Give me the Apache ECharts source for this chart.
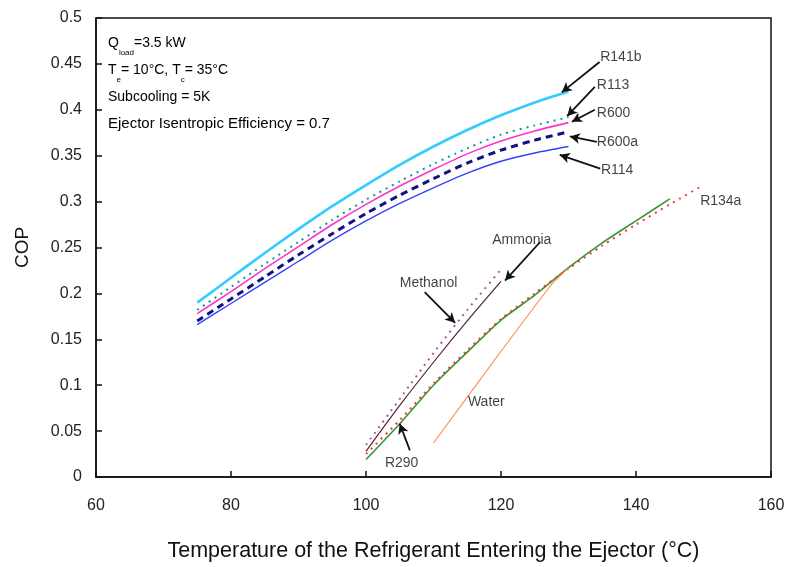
<!DOCTYPE html>
<html>
<head>
<meta charset="utf-8">
<script src="https://cdn.jsdelivr.net/npm/echarts@6/dist/echarts.min.js"></script>
<style>
  html, body { margin: 0; padding: 0; background: #fff; }
  #chart { width: 794px; height: 567px; }
</style>
</head>
<body>
<div id="chart"></div>
<script>
// Generator inlet temperatures (°C)
const tempHigh = [75, 80, 85, 90, 95, 100, 105, 110, 115, 120, 125, 130];
const tempLow = [100, 105, 110, 115, 120];
const tempR290 = [100, 105, 110, 115, 120, 125, 130, 135, 140, 145];
const tempR134a = [100, 105, 110, 115, 120, 125, 130, 135, 140, 145, 150];
const tempWater = [110, 115, 120, 125, 127.5, 130];

// COP per refrigerant
const copR141b = [0.190, 0.217, 0.244, 0.270, 0.295, 0.318, 0.340, 0.360, 0.378, 0.394, 0.408, 0.420];
const copR113  = [0.182, 0.207, 0.232, 0.256, 0.280, 0.302, 0.322, 0.341, 0.358, 0.373, 0.383, 0.392];
const copR600  = [0.178, 0.202, 0.227, 0.251, 0.275, 0.297, 0.317, 0.335, 0.352, 0.366, 0.377, 0.386];
const copR600a = [0.170, 0.194, 0.218, 0.242, 0.265, 0.287, 0.307, 0.325, 0.342, 0.356, 0.367, 0.376];
const copR114  = [0.166, 0.189, 0.212, 0.235, 0.258, 0.279, 0.298, 0.315, 0.331, 0.344, 0.353, 0.360];
const copMethanol = [0.035, 0.085, 0.135, 0.182, 0.226];
const copAmmonia  = [0.028, 0.078, 0.125, 0.170, 0.213];
const copR290  = [0.019, 0.058, 0.100, 0.136, 0.171, 0.198, 0.228, 0.255, 0.279, 0.303];
const copR134a = [0.025, 0.062, 0.102, 0.138, 0.172, 0.200, 0.227, 0.252, 0.275, 0.297, 0.318];
const copWater = [0.037, 0.087, 0.137, 0.186, 0.210, 0.228];

// Axis tick settings
const xTicks = { min: 60, max: 160, step: 20 };
const yTicks = { min: 0, max: 0.5, step: 0.05 };

// Curve labels (anchored at their left edge) and leader arrows, in axis units
const curveLabels = [
  ['R141b', 134.7, 0.4575], ['R113', 134.2, 0.427], ['R600', 134.2, 0.3965],
  ['R600a', 134.2, 0.365], ['R114', 134.8, 0.3344], ['R134a', 149.5, 0.3007],
  ['Ammonia', 118.7, 0.258], ['Methanol', 105.0, 0.2113], ['Water', 115.1, 0.0817],
  ['R290', 102.8, 0.0153]
];
const leaders = [
  [[134.6, 0.452], [129.0, 0.419]],
  [[133.9, 0.425], [129.8, 0.393]],
  [[133.9, 0.400], [130.5, 0.387]],
  [[134.2, 0.365], [130.2, 0.371]],
  [[134.7, 0.336], [128.7, 0.351]],
  [[125.8, 0.256], [120.6, 0.214]],
  [[108.7, 0.2015], [113.2, 0.168]],
  [[106.5, 0.029], [105.0, 0.058]]
];

const pair = (xs, ys) => xs.map((x, i) => [x, ys[i]]);

function curve(name, xs, ys, color, width, type, smooth) {
  return {
    name, type: 'line', data: pair(xs, ys), showSymbol: false,
    smooth: smooth === undefined ? 0.25 : smooth,
    lineStyle: { color, width, type }, z: 3, silent: true
  };
}

const FONT = 'Liberation Sans, Arial, sans-serif';

const series = [
  curve('R141b', tempHigh, copR141b, '#33ccff', 2.6, 'solid'),
  curve('R113', tempHigh, copR113, '#11998f', 2, [2, 5]),
  curve('R600', tempHigh, copR600, '#ff33cc', 1.6, 'solid'),
  curve('R114', tempHigh, copR114, '#3344ff', 1.4, 'solid'),
  curve('R600a', tempHigh, copR600a, '#111180', 3, [7, 5]),
  curve('Methanol', tempLow, copMethanol, '#aa55aa', 2, [2, 5]),
  curve('Ammonia', tempLow, copAmmonia, '#552233', 1.2, 'solid'),
  curve('R290', tempR290, copR290, '#339933', 1.6, 'solid'),
  curve('R134a', tempR134a, copR134a, '#ff3333', 2, [2, 5]),
  curve('Water', tempWater, copWater, '#ff8855', 1.1, 'solid', false),
  {
    name: 'labels', type: 'scatter', symbolSize: 0, silent: true, z: 5,
    data: curveLabels.map(l => ({ name: l[0], value: [l[1], l[2]] })),
    label: {
      show: true, position: 'inside', align: 'left', verticalAlign: 'middle',
      formatter: p => p.name, color: '#111', fontFamily: FONT, fontSize: 14
    },
    markLine: {
      silent: true, symbol: ['none', 'arrow'], symbolSize: [8, 10],
      lineStyle: { color: '#111', width: 1.8, type: 'solid' },
      label: { show: false },
      data: leaders.map(l => [{ coord: l[0] }, { coord: l[1] }])
    }
  }
];

const chart = echarts.init(document.getElementById('chart'));
chart.setOption({
  animation: false,
  backgroundColor: '#fff',
  grid: {
    left: 96, right: 23, top: 18, bottom: 90, outerBoundsMode: 'none',
    show: true, borderColor: '#111', borderWidth: 1.5, backgroundColor: 'transparent'
  },
  xAxis: {
    type: 'value', min: xTicks.min, max: xTicks.max, interval: xTicks.step,
    name: 'Temperature of the Refrigerant Entering the Ejector (°C)',
    nameLocation: 'middle', nameGap: 63,
    nameTextStyle: { fontFamily: FONT, fontSize: 21.5, color: '#111' },
    axisLine: { lineStyle: { color: '#111', width: 1.5 } },
    axisTick: { inside: true, length: 6, lineStyle: { color: '#111', width: 1.5 } },
    axisLabel: { margin: 21, fontFamily: FONT, fontSize: 16, color: '#222' },
    splitLine: { show: false }
  },
  yAxis: {
    type: 'value', min: yTicks.min, max: yTicks.max, interval: yTicks.step,
    name: 'COP', nameLocation: 'middle', nameGap: 64, nameRotate: 90,
    nameTextStyle: { fontFamily: FONT, fontSize: 19, color: '#111' },
    axisLine: { lineStyle: { color: '#111', width: 1.5 } },
    axisTick: { inside: true, length: 6, lineStyle: { color: '#111', width: 1.5 } },
    axisLabel: { margin: 14, fontFamily: FONT, fontSize: 16, color: '#222' },
    splitLine: { show: false }
  },
  graphic: [{
    type: 'text', left: 108, top: 36,
    style: {
      text: '{t|Q}{s|load}{t|=3.5 kW}\n{t|T}{s|e}{t|= 10°C, T}{s|c}{t|= 35°C}\n{t|Subcooling = 5K}\n{w|Ejector Isentropic Efficiency = 0.7}',
      rich: {
        t: { fontFamily: FONT, fontSize: 14, color: '#111', lineHeight: 27 },
        w: { fontFamily: FONT, fontSize: 15, color: '#111', lineHeight: 27 },
        s: { fontFamily: FONT, fontSize: 8, color: '#111', lineHeight: 27, verticalAlign: 'bottom', padding: [2, 0, 0, 0] }
      }
    }
  }],
  series
});
</script>
</body>
</html>
